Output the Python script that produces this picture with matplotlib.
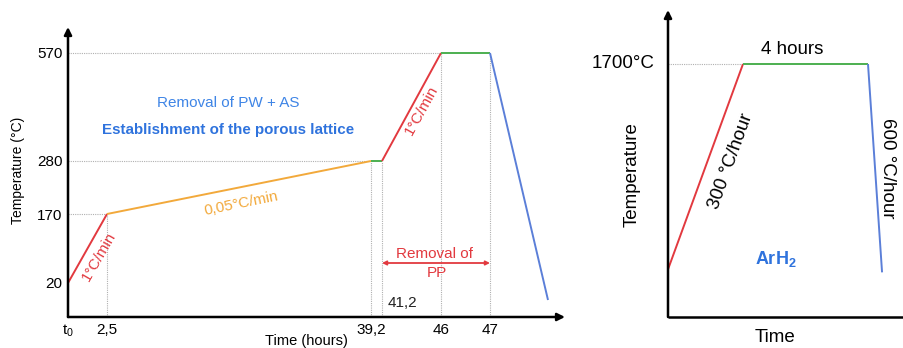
import numpy as np
import matplotlib
matplotlib.use('Agg')
import matplotlib.pyplot as plt

plt.rcParams['font.family'] = ['Liberation Sans', 'DejaVu Sans']
plt.rcParams['mathtext.fontset'] = 'custom'
plt.rcParams['mathtext.rm'] = 'Liberation Sans'
plt.rcParams['mathtext.bf'] = 'Liberation Sans:bold'

# ---------------- data ----------------
# Left: debinding cycle (schematic)
time_h = [0, 2.5, 39.2, 41.2, 46, 47, 50]
temp_c = [20, 170, 280, 280, 570, 570, 10]
seg_colors = ['#e2393f', '#f2a93b', '#4caf50', '#e2393f', '#4caf50', '#5b7fd8']
x_ticks = [0, 2.5, 39.2, 46, 47]
x_ticklabels = ['t$_0$', '2,5', '39,2', '46', '47']
y_ticks = [20, 170, 280, 570]
y_ticklabels = ['20', '170', '280', '570']

# Right: sintering cycle (schematic)
sint_time = [0, 2.4, 6.4, 6.85]
sint_temp = [320, 1700, 1700, 300]
sint_colors = ['#e2393f', '#4caf50', '#5b7fd8']

# ---------------- layout ----------------
W, H = 904, 348
fig = plt.figure(figsize=(W / 100, H / 100), dpi=100)

def fx(px):
    return px / W

def fy(py):
    return 1 - py / H

# schematic (non-linear) axis mapping: data value -> pixel offset
X_ANCH = [0, 2.5, 39.2, 41.2, 46, 47, 50, 51]
X_PIX = [0, 39, 303, 314, 373, 422, 480, 497]
Y_ANCH = [0, 20, 170, 280, 570, 640]
Y_PIX = [0, 34, 103, 156, 264, 290]

def xf(v):
    return np.interp(v, X_ANCH, X_PIX)

def xi(p):
    return np.interp(p, X_PIX, X_ANCH)

def yf(v):
    return np.interp(v, Y_ANCH, Y_PIX)

def yi(p):
    return np.interp(p, Y_PIX, Y_ANCH)

RED = '#e2393f'
ORANGE = '#f2a93b'
BLUE_TXT = '#3f85e6'
BLUE_BOLD = '#2f73dd'
GRID = '#b0b0b0'

ax = fig.add_axes([fx(68), 1 - 317 / H, (565 - 68) / W, (317 - 27) / H])
ax.set_xscale('function', functions=(xf, xi))
ax.set_yscale('function', functions=(yf, yi))
ax.set_xlim(0, 51)
ax.set_ylim(0, 640)
for s in ax.spines.values():
    s.set_visible(False)

# guide lines
dot = dict(color=GRID, lw=0.8, ls=(0, (1, 1)), zorder=1)
ax.plot([0, time_h[4]], [temp_c[4], temp_c[4]], **dot)
ax.plot([0, time_h[2]], [temp_c[2], temp_c[2]], **dot)
ax.plot([0, time_h[1]], [temp_c[1], temp_c[1]], **dot)
for i in [1, 2, 3, 4, 5]:
    ax.plot([time_h[i], time_h[i]], [0, temp_c[i]], **dot)

# profile
for i, c in enumerate(seg_colors):
    ax.plot(time_h[i:i + 2], temp_c[i:i + 2], color=c, lw=1.4, zorder=3,
            solid_capstyle='butt')

ax.set_xticks(x_ticks)
ax.set_xticklabels(x_ticklabels, fontsize=11)
ax.set_yticks(y_ticks)
ax.set_yticklabels(y_ticklabels, fontsize=11)
ax.tick_params(length=0, pad=4)
ax.xaxis.set_minor_locator(matplotlib.ticker.NullLocator())
ax.yaxis.set_minor_locator(matplotlib.ticker.NullLocator())

arrow_kw = dict(arrowstyle='-|>', lw=1.8, color='black', mutation_scale=11,
                shrinkA=0, shrinkB=0)
ax.annotate('', xy=(0, 1.0), xytext=(0, 0), xycoords='axes fraction',
            arrowprops=arrow_kw, annotation_clip=False)
ax.annotate('', xy=(1.0, 0), xytext=(0, 0), xycoords='axes fraction',
            arrowprops=arrow_kw, annotation_clip=False)

# Removal of PP arrow
ax.annotate('', xy=(time_h[5], fy(263)), xytext=(time_h[3], fy(263)),
            xycoords=('data', 'figure fraction'),
            arrowprops=dict(arrowstyle='<|-|>', color=RED, lw=1.3,
                            mutation_scale=6, shrinkA=0, shrinkB=0),
            annotation_clip=False)

fig.text(fx(435), fy(254), 'Removal of', color=RED, fontsize=11, ha='center', va='center')
fig.text(fx(437), fy(273), 'PP', color=RED, fontsize=11, ha='center', va='center')
fig.text(fx(402), fy(303), '41,2', color='#222222', fontsize=11, ha='center', va='center')

fig.text(fx(99), fy(257), '1°C/min', color=RED, fontsize=11, rotation=60,
         ha='center', va='center', rotation_mode='anchor')
fig.text(fx(241), fy(204), '0,05°C/min', color=ORANGE, fontsize=11, rotation=11.5,
         ha='center', va='center', rotation_mode='anchor')
fig.text(fx(422), fy(110), '1°C/min', color=RED, fontsize=11, rotation=61,
         ha='center', va='center', rotation_mode='anchor')

fig.text(fx(228), fy(103), 'Removal of PW + AS', color=BLUE_TXT, fontsize=11,
         ha='center', va='center')
fig.text(fx(228), fy(130), 'Establishment of the porous lattice', color=BLUE_BOLD,
         fontsize=10.9, fontweight='bold', ha='center', va='center')

fig.text(fx(18), fy(170), 'Temperature (°C)', fontsize=10, rotation=90,
         ha='center', va='center')
fig.text(fx(306), fy(341), 'Time (hours)', fontsize=10.5, ha='center', va='center')

# ---------------- right panel ----------------
ax2 = fig.add_axes([fx(668), 1 - 317 / H, (904 - 668 + 4) / W, (317 - 10) / H])
ax2.set_xlim(0, 7.68)
ax2.set_ylim(0, 2063)
for s in ax2.spines.values():
    s.set_visible(False)
ax2.set_xticks([])
ax2.set_yticks([])
ax2.plot([0, sint_time[1]], [sint_temp[1], sint_temp[1]], **dot)
for i, c in enumerate(sint_colors):
    ax2.plot(sint_time[i:i + 2], sint_temp[i:i + 2], color=c, lw=1.4, zorder=3,
             solid_capstyle='butt')
ax2.annotate('', xy=(0, 1.0), xytext=(0, 0), xycoords='axes fraction',
             arrowprops=arrow_kw, annotation_clip=False)
ax2.plot([0, 1], [0, 0], transform=ax2.transAxes, color='black', lw=1.8,
         clip_on=False, solid_capstyle='butt')

fig.text(fx(655), fy(63), '1700°C', fontsize=13.5, ha='right', va='center')
fig.text(fx(792), fy(49), '4 hours', fontsize=13.5, ha='center', va='center')
fig.text(fx(731), fy(161), '300 °C/hour', fontsize=13.5, rotation=70,
         ha='center', va='center', rotation_mode='anchor')
fig.text(fx(888), fy(168), '600 °C/hour', fontsize=13.5, rotation=-90,
         ha='center', va='center', rotation_mode='anchor')
fig.text(fx(776), fy(259), r'$\mathbf{ArH_2}$', color=BLUE_BOLD, fontsize=13,
         ha='center', va='center')
fig.text(fx(632), fy(175), 'Temperature', fontsize=13.5, rotation=90,
         ha='center', va='center')
fig.text(fx(775), fy(338), 'Time', fontsize=13.5, ha='center', va='center')

fig.savefig('out.png', dpi=100)
